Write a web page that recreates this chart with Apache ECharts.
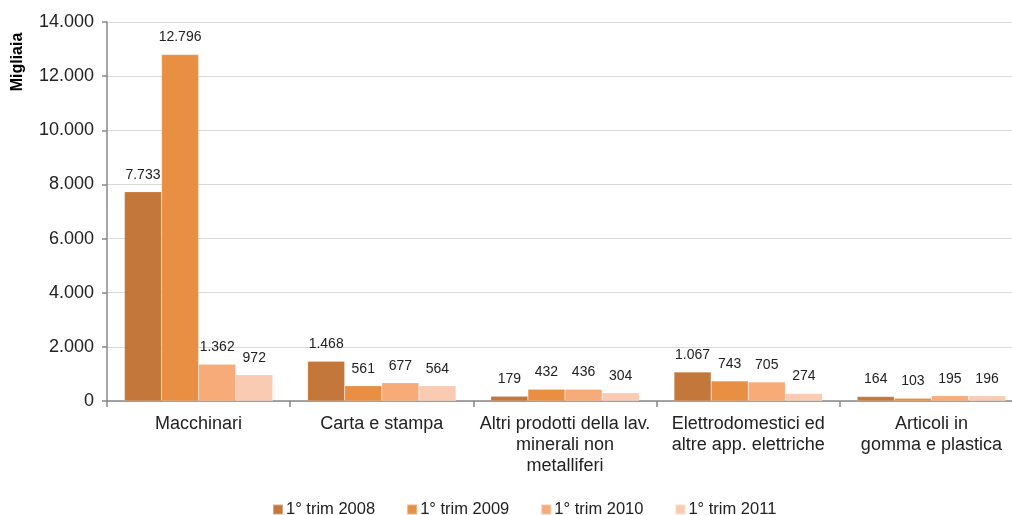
<!DOCTYPE html>
<html>
<head>
<meta charset="utf-8">
<script src="https://cdn.jsdelivr.net/npm/echarts@6/dist/echarts.min.js"></script>
<style>
  html, body { margin: 0; padding: 0; background: #fff; overflow: hidden; }
  #chart { width: 1023px; height: 515px; }
</style>
</head>
<body>
<div id="chart"></div>
<script>
// categorie e valori (migliaia)
const categories = [
  'Macchinari',
  'Carta e stampa',
  'Altri prodotti della lav.\nminerali non\nmetalliferi',
  'Elettrodomestici ed\naltre app. elettriche',
  'Articoli in\ngomma e plastica'
];
const seriesNames = ['1° trim 2008', '1° trim 2009', '1° trim 2010', '1° trim 2011'];
const trim2008 = [7733, 1468, 179, 1067, 164];
const trim2009 = [12796, 561, 432, 743, 103];
const trim2010 = [1362, 677, 436, 705, 195];
const trim2011 = [972, 564, 304, 274, 196];
const colors = ['#C4773A', '#E88F43', '#F7AB79', '#F9CBB3'];

const fontFamily = '"Liberation Sans", Arial, sans-serif';

function fmt(v) {
  return String(v).replace(/\B(?=(\d{3})+(?!\d))/g, '.');
}

// il grafico è un po' più largo della finestra: il bordo destro viene tagliato
const chart = echarts.init(document.getElementById('chart'));

const values = [trim2008, trim2009, trim2010, trim2011];
const series = values.map((data, i) => ({
  name: seriesNames[i],
  type: 'bar',
  data: data,
  barGap: 0,
  barCategoryGap: '19%',
  itemStyle: { color: colors[i], borderColor: 'rgba(255,255,255,0.35)', borderWidth: 0.5 },
  label: {
    show: true,
    position: 'top',
    distance: 10,
    color: '#222',
    fontSize: 14,
    fontFamily: fontFamily,
    formatter: p => fmt(p.value)
  }
}));

chart.setOption({
  backgroundColor: '#fff',
  animation: false,
  textStyle: { fontFamily: fontFamily },
  grid: { left: 107, top: 22, right: 0, bottom: 114 },
  legend: {
    data: seriesNames,
    top: 501,
    left: 272,
    padding: 0,
    icon: 'rect',
    itemWidth: 10,
    itemHeight: 10,
    itemGap: 31,
    textStyle: { color: '#222', fontSize: 16.5, fontFamily: fontFamily, padding: [0, 0, 0, -2] }
  },
  xAxis: {
    type: 'category',
    data: categories,
    axisLine: { lineStyle: { color: '#888', width: 1.5 } },
    axisTick: { show: true, length: 6, lineStyle: { color: '#888', width: 1.5 } },
    axisLabel: {
      color: '#222',
      fontSize: 18,
      lineHeight: 21,
      margin: 13,
      interval: 0,
      fontFamily: fontFamily
    }
  },
  yAxis: {
    type: 'value',
    min: 0,
    max: 14000,
    interval: 2000,
    axisLine: { show: true, lineStyle: { color: '#888', width: 1.5 } },
    axisTick: { show: true, length: 5, lineStyle: { color: '#888', width: 1.5 } },
    axisLabel: {
      color: '#222',
      fontSize: 18,
      margin: 13,
      fontFamily: fontFamily,
      formatter: v => fmt(v)
    },
    splitLine: { lineStyle: { color: '#d9d9d9', width: 1 } }
  },
  graphic: [{
    type: 'text',
    x: 18,
    y: 62,
    rotation: Math.PI / 2,
    style: {
      text: 'Migliaia',
      font: 'bold 16px ' + fontFamily,
      fill: '#000',
      align: 'center',
      verticalAlign: 'middle'
    }
  }],
  series: series
});
</script>
</body>
</html>
